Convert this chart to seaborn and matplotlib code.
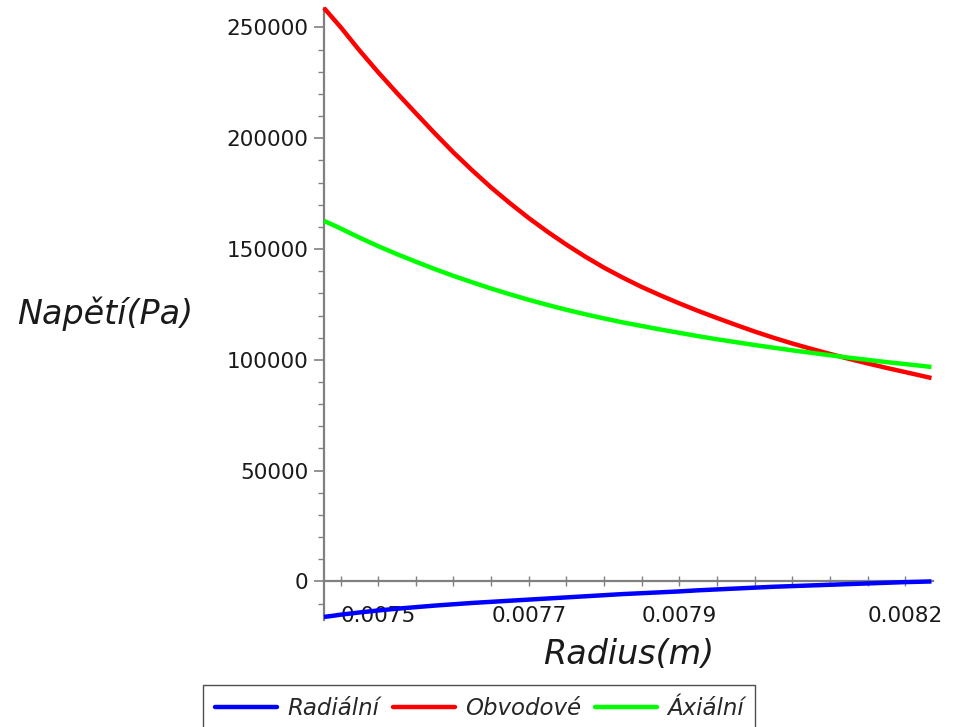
import numpy as np
import pandas as pd
import matplotlib
matplotlib.use("Agg")
import matplotlib.pyplot as plt
from matplotlib.ticker import MultipleLocator, FixedLocator, FixedFormatter
import seaborn as sns

# ---- data ----
radius = [0.007428, 0.00744, 0.00745, 0.007475, 0.00750, 0.007525, 0.00755, 0.007575,
          0.00760, 0.007625, 0.00765, 0.007675, 0.00770, 0.007725, 0.00775, 0.007775,
          0.00780, 0.007825, 0.00785, 0.007875, 0.00790, 0.007925, 0.00795, 0.007975,
          0.00800, 0.008025, 0.00805, 0.008075, 0.00810, 0.008125, 0.00815, 0.008175,
          0.00820, 0.008235]
radialni = [-16000, -15500, -15000, -14000, -13100, -12300, -11600, -10900,
            -10300, -9700, -9200, -8700, -8200, -7700, -7200, -6700,
            -6200, -5700, -5300, -4900, -4500, -4000, -3600, -3200,
            -2800, -2400, -2100, -1800, -1500, -1200, -900, -600,
            -300, 0]
obvodove = [258800, 254100, 250200, 239700, 229800, 220400, 211300, 202300,
            193600, 185500, 177800, 170700, 164000, 157800, 152000, 146600,
            141600, 137100, 132900, 129100, 125500, 122100, 118900, 115800,
            112800, 110000, 107400, 105000, 102700, 100500, 98400, 96400,
            94500, 91800]
axialni = [162700, 160900, 159300, 155200, 151300, 147700, 144300, 141000,
           137900, 135000, 132200, 129600, 127100, 124800, 122600, 120600,
           118700, 116900, 115300, 113700, 112200, 110700, 109300, 108000,
           106700, 105500, 104300, 103200, 102100, 101000, 100000, 99000,
           98100, 96800]

series_names = ["Radiální", "Obvodové", "Áxiální"]
series_colors = ["#0000FF", "#FF0000", "#00FF00"]
x_tick_values = [0.0075, 0.0077, 0.0079, 0.0082]
x_tick_labels = ["0.0075", "0.0077", "0.0079", "0.0082"]

df = pd.DataFrame({
    "r": radius * 3,
    "sigma": radialni + obvodove + axialni,
    "typ": [series_names[0]] * len(radius) + [series_names[1]] * len(radius)
           + [series_names[2]] * len(radius),
})

sns.set_theme(style="white")
plt.rcParams["font.family"] = ["DejaVu Sans"]

fig = plt.figure(figsize=(9.55, 7.27), dpi=100)
ax = fig.add_axes([324 / 955, 1 - 620 / 727, 609 / 955, 612 / 727])

sns.lineplot(data=df, x="r", y="sigma", hue="typ", hue_order=series_names,
             palette=series_colors, linewidth=3.2, ax=ax, legend=False,
             estimator=None, sort=False)
for ln in ax.lines:
    ln.set_clip_on(False)
    ln.set_solid_capstyle("butt")
    ln.set_solid_joinstyle("round")

ax.set_xlim(0.007428, 0.008237)
ax.set_ylim(-17400, 258800)

grey = "#808080"
for s in ["top", "right"]:
    ax.spines[s].set_visible(False)
ax.spines["left"].set_color(grey)
ax.spines["left"].set_linewidth(1.6)
ax.spines["bottom"].set_color(grey)
ax.spines["bottom"].set_linewidth(1.6)
ax.spines["bottom"].set_position(("data", 0))
ax.spines["left"].set_zorder(0.5)
ax.spines["bottom"].set_zorder(0.5)

ax.yaxis.set_major_locator(MultipleLocator(50000))
ax.yaxis.set_minor_locator(MultipleLocator(10000))
ax.yaxis.set_major_formatter(matplotlib.ticker.FuncFormatter(lambda v, p: f"{int(round(v))}"))
ax.tick_params(axis="y", which="major", direction="out", length=7, width=1.2,
               color=grey, labelsize=15.5, pad=4, labelcolor="#1a1a1a", left=True)
ax.tick_params(axis="y", which="minor", direction="out", length=4, width=1.0,
               color=grey, left=True)

ax.xaxis.set_major_locator(FixedLocator(x_tick_values))
ax.xaxis.set_major_formatter(FixedFormatter(x_tick_labels))
ax.xaxis.set_minor_locator(MultipleLocator(0.00005))
ax.tick_params(axis="x", which="both", direction="inout", length=7, width=1.0,
               color=grey, bottom=True)
ax.tick_params(axis="x", which="major", labelsize=15.5, pad=14, labelcolor="#1a1a1a")

ax.set_xlabel("Radius(m)", fontsize=24, style="italic", color="#1a1a1a")
ax.xaxis.set_label_coords(0.5, -0.057)
ax.xaxis.label.set_va("center")
ax.set_ylabel("Napětí(Pa)", fontsize=24, style="italic", rotation=0, color="#1a1a1a")
ax.yaxis.set_label_coords(-0.36, 0.5)
ax.yaxis.label.set_va("center")
ax.yaxis.label.set_ha("center")

handles = [matplotlib.lines.Line2D([], [], color=c, lw=3.2) for c in series_colors]
leg = fig.legend(handles, series_names, loc="center", bbox_to_anchor=(0.502, 0.026),
                 ncol=3, frameon=True, fancybox=False, edgecolor="#222222",
                 prop={"size": 16.5, "style": "italic"}, handlelength=2.7,
                 handletextpad=0.45, columnspacing=0.6, borderpad=0.5,
                 borderaxespad=0)
leg.get_frame().set_linewidth(1.0)

fig.savefig("out.png", dpi=100)
